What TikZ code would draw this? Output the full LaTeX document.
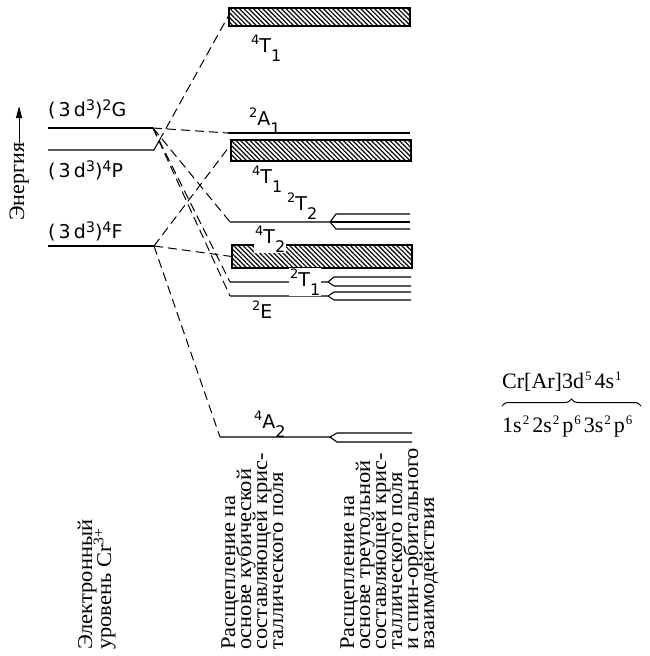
\documentclass[tikz,border=0pt]{standalone}
\usepackage{fontspec}
\usepackage{graphicx}
\setmainfont{Liberation Serif}
\newfontfamily\labf[LetterSpace=16]{DejaVu Sans}
\usetikzlibrary{patterns.meta,arrows.meta,decorations.pathreplacing}
\newcommand\lsup[1]{\raisebox{5.5pt}{\fontsize{14.5}{14.5}\selectfont #1}}
\newcommand\lv[3]{\raisebox{7.5pt}{\fontsize{13}{13}\selectfont #1}#2\raisebox{-9pt}{\fontsize{16}{16}\selectfont #3}}
\newcommand\esup[1]{\kern1pt\raisebox{8pt}{\fontsize{13}{13}\selectfont #1}\kern3pt}
\newcommand\rt[1]{\scalebox{1.07}[1]{#1}}
\begin{document}
\begin{tikzpicture}[x=1pt,y=-1pt,
  lvl/.style={line width=1.1pt},
  conn/.style={line width=1pt, dash pattern=on 9pt off 5pt},
  hbox/.style={draw, line width=1.8pt, inner sep=0pt, anchor=north west,
    pattern={Lines[angle=-45,distance=3.3pt,line width=1.2pt]}},
  lab/.style={font=\labf\fontsize{19}{19}\selectfont, inner sep=0pt, anchor=base west},
  llab/.style={font=\labf\fontsize{19}{19}\selectfont, inner sep=0pt, anchor=base west},
  rus/.style={font=\fontsize{21}{21}\selectfont, rotate=90, anchor=base west, inner sep=0pt},
]
\useasboundingbox (0,0) rectangle (649,656);

% energy axis
\node[rus, font=\fontsize{22}{22}\selectfont] (en) at (24,221) {Энергия};
\coordinate (entip) at (18,106);
\draw[line width=1pt, -{Triangle[length=12pt,width=6pt]}] (en.east) -- (en.east |- entip);

% free-ion levels
\coordinate (g0) at (48,128); \coordinate (G) at (153,128);
\coordinate (p0) at (48,150); \coordinate (p1) at (154,150); \coordinate (P) at (159,141);
\coordinate (f0) at (48,246); \coordinate (F) at (154,246);
\draw[lvl] (g0) -- (G);
\draw[lvl] (p0) -- (p1) -- (P);
\draw[lvl] (f0) -- (F);
\node[lab] (lg) at (48,116) {(3d\lsup{3})\lsup{2}G};
\node[lab] (lp) at (48,177) {(3d\lsup{3})\lsup{4}P};
\node[lab] (lf) at (48,238) {(3d\lsup{3})\lsup{4}F};

% cubic-field levels
\node[hbox, minimum width=181pt, minimum height=18pt] (t1a) at (228,7) {};
\node[hbox, minimum width=180pt, minimum height=21pt] (t1b) at (230,139) {};
\node[hbox, minimum width=180pt, minimum height=23pt] (t2) at (231,244) {};

\coordinate (a1) at (228,133);
\draw[lvl] (a1) -- (410,133);

\coordinate (t22) at (230,222);
\draw[lvl] (t22) -- (330,222) -- (336,214) -- (410,214);
\draw[lvl] (330,222) -- (410,222);
\draw[lvl] (330,222) -- (336,229) -- (410,229);

\coordinate (t21) at (230,282);
\draw[lvl] (t21) -- (328,282) -- (334,277) -- (411,277);
\draw[lvl] (328,282) -- (334,286) -- (411,286);

\coordinate (e0) at (230,296);
\draw[lvl] (e0) -- (328,296) -- (334,292) -- (411,292);
\draw[lvl] (328,296) -- (334,300) -- (411,300);

\coordinate (a2) at (220,437);
\draw[lvl] (a2) -- (330,437) -- (337,433) -- (412,433);
\draw[lvl] (330,437) -- (337,442) -- (412,442);

% level labels
\node[llab] at (251,52) {\lv{4}{T}{1}};
\node[llab] at (249,125) {\lv{2}{A}{1}};
\node[llab] at (252,183) {\lv{4}{T}{1}};
\node[llab] at (287,210) {\lv{2}{T}{2}};
\node[llab, fill=white, inner sep=1pt] at (254,243) {\lv{4}{T}{2}};
\node[llab, fill=white, inner sep=1pt] at (289,286) {\lv{2}{T}{1}};
\node[llab] at (252,318) {\lv{2}{E}{}};
\node[llab] at (254,428) {\lv{4}{A}{2}};

% connectors
\draw[conn] (P) -- (t1a.west);
\draw[conn] (G) -- (a1);
\draw[conn] (G) -- (t22);
\draw[conn] (G) -- (t21);
\draw[conn] (G) -- (e0);
\draw[conn] (F) -- (t1b.177);
\draw[conn] (F) -- (t2.west);
\draw[conn] (F) -- (a2);

% electron configuration
\node[font=\fontsize{22}{22}\selectfont, inner sep=0pt, anchor=base west] (c1) at (502,388) {Cr[Ar]3d\esup{5}4s\esup{1}};
\node[font=\fontsize{22}{22}\selectfont, inner sep=0pt, anchor=base west] (c2) at (502,432) {1s\esup{2}2s\esup{2}p\esup{6}3s\esup{2}p\esup{6}};
\coordinate (bl) at (502,406); \coordinate (br) at (641,406);
\draw[line width=1pt, decorate, decoration={brace, amplitude=7pt}] (bl) -- (br);

% captions
\node[rus] (e1) at (92,650) {\rt{Электронный}};
\node[rus] (e2) at (111,650) {\rt{уровень Cr\textsuperscript{3+}}};
\node[rus] (k1) at (235,650) {\rt{Расщепление на}};
\node[rus] (k2) at (251,650) {\rt{основе кубической}};
\node[rus] (k3) at (267,650) {\rt{составляющей крис-}};
\node[rus] (k4) at (283,650) {\rt{таллического поля}};
\node[rus] (s1) at (354,650) {\rt{Расщепление на}};
\node[rus] (s2) at (370,650) {\rt{основе треугольной}};
\node[rus] (s3) at (386,650) {\rt{составляющей крис-}};
\node[rus] (s4) at (402,650) {\rt{таллического поля}};
\node[rus] (s5) at (418,650) {\rt{и спин-орбитального}};
\node[rus] (s6) at (434,650) {\rt{взаимодействия}};
\end{tikzpicture}
\end{document}
